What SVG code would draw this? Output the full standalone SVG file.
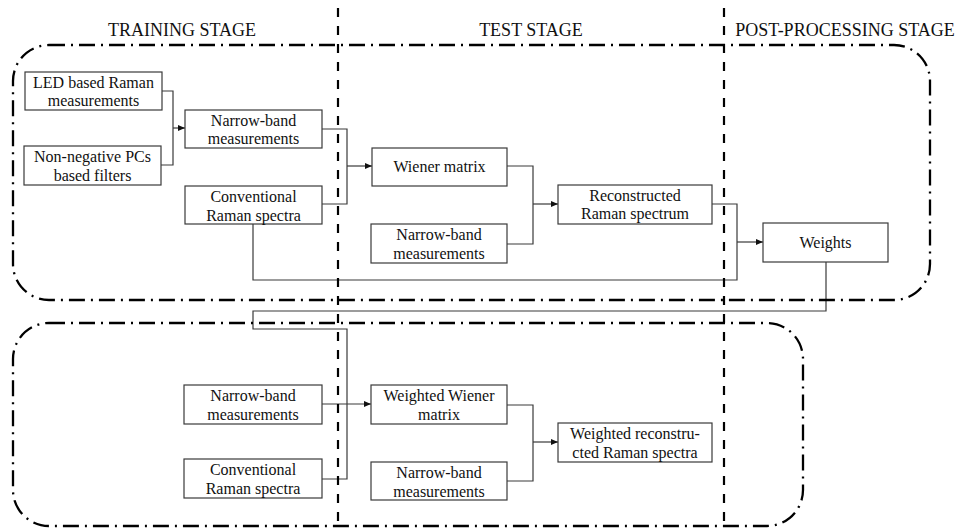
<svg xmlns="http://www.w3.org/2000/svg" width="956" height="528" viewBox="0 0 956 528">
<style>
.bg{fill:#fff}
.box{fill:#fff;stroke:#3a3a3a;stroke-width:1.2}
.t{font-family:"Liberation Serif","Times New Roman",serif;font-size:16px;fill:#111;text-anchor:middle}
.h{font-family:"Liberation Serif","Times New Roman",serif;font-size:18px;fill:#111;text-anchor:middle}
.dd{fill:none;stroke:#000;stroke-width:2.3;stroke-dasharray:16 6 2 6}
.vd{fill:none;stroke:#000;stroke-width:2.2;stroke-dasharray:9 9}
.c{fill:none;stroke:#3a3a3a;stroke-width:1.2}
.a{fill:none;stroke:#3a3a3a;stroke-width:1.2;marker-end:url(#arr)}
</style>
<defs>
<marker id="arr" markerUnits="userSpaceOnUse" markerWidth="8" markerHeight="8" refX="7" refY="4" orient="auto">
<path d="M0,1 L7,4 L0,7 Z" fill="#111"/>
</marker>
</defs>
<rect class="bg" x="0" y="0" width="956" height="528"/>
<g id="connectors">
<path class="c" d="M162,91 H173 V165 H161"/>
<path class="a" d="M173,128 H185"/>
<path class="c" d="M322,129 H347 V204 H322"/>
<path class="a" d="M347,166 H372"/>
<path class="c" d="M507,166 H533 V244 H507"/>
<path class="a" d="M533,204 H558"/>
<path class="c" d="M712,204 H737 V280 H253 V224"/>
<path class="a" d="M737,242 H763"/>
<path class="c" d="M826,262 V311 H253 V329 H347 V479 H322"/>
<path class="a" d="M322,404 H371"/>
<path class="c" d="M507,405 H533 V481 H507"/>
<path class="a" d="M533,442 H558"/>
</g>
<g id="frames">
<rect class="dd" x="13" y="45" width="917" height="255" rx="36" ry="36"/>
<rect class="dd" x="13" y="323" width="790" height="203" rx="36" ry="36"/>
<line class="vd" x1="338" y1="8" x2="338" y2="528"/>
<line class="vd" x1="724" y1="8" x2="724" y2="528"/>
</g>
<g id="headers">
<text class="h" x="182" y="36">TRAINING STAGE</text>
<text class="h" x="531" y="36">TEST STAGE</text>
<text class="h" x="845" y="36">POST-PROCESSING STAGE</text>
</g>
<g id="led">
<rect class="box" x="25" y="72" width="137" height="38"/>
<text class="t" x="93.5" y="88">LED based Raman</text>
<text class="t" x="93.5" y="106">measurements</text>
</g>
<g id="nnpc">
<rect class="box" x="24" y="146" width="137" height="39"/>
<text class="t" x="92.5" y="162">Non-negative PCs</text>
<text class="t" x="92.5" y="181">based filters</text>
</g>
<g id="nb-train">
<rect class="box" x="185" y="110" width="137" height="38"/>
<text class="t" x="253.5" y="126">Narrow-band</text>
<text class="t" x="253.5" y="144">measurements</text>
</g>
<g id="conv-train">
<rect class="box" x="185" y="186" width="137" height="38"/>
<text class="t" x="253.5" y="202">Conventional</text>
<text class="t" x="253.5" y="221">Raman spectra</text>
</g>
<g id="wiener">
<rect class="box" x="372" y="148" width="135" height="38"/>
<text class="t" x="439.5" y="172">Wiener matrix</text>
</g>
<g id="nb-test">
<rect class="box" x="371" y="224" width="136" height="39"/>
<text class="t" x="439" y="240">Narrow-band</text>
<text class="t" x="439" y="259">measurements</text>
</g>
<g id="recon">
<rect class="box" x="558" y="185" width="154" height="39"/>
<text class="t" x="635" y="201">Reconstructed</text>
<text class="t" x="635" y="219">Raman spectrum</text>
</g>
<g id="weights">
<rect class="box" x="763" y="223" width="125" height="39"/>
<text class="t" x="825.5" y="248">Weights</text>
</g>
<g id="nb-train2">
<rect class="box" x="184" y="385" width="138" height="39"/>
<text class="t" x="253" y="401">Narrow-band</text>
<text class="t" x="253" y="420">measurements</text>
</g>
<g id="conv-train2">
<rect class="box" x="184" y="459" width="138" height="39"/>
<text class="t" x="253" y="475">Conventional</text>
<text class="t" x="253" y="494">Raman spectra</text>
</g>
<g id="wwiener">
<rect class="box" x="371" y="385" width="136" height="39"/>
<text class="t" x="439" y="401">Weighted Wiener</text>
<text class="t" x="439" y="420">matrix</text>
</g>
<g id="nb-test2">
<rect class="box" x="371" y="462" width="136" height="38"/>
<text class="t" x="439" y="478">Narrow-band</text>
<text class="t" x="439" y="497">measurements</text>
</g>
<g id="wrecon">
<rect class="box" x="558" y="423" width="154" height="39"/>
<text class="t" x="635" y="439">Weighted reconstru-</text>
<text class="t" x="635" y="458">cted Raman spectra</text>
</g>
</svg>
